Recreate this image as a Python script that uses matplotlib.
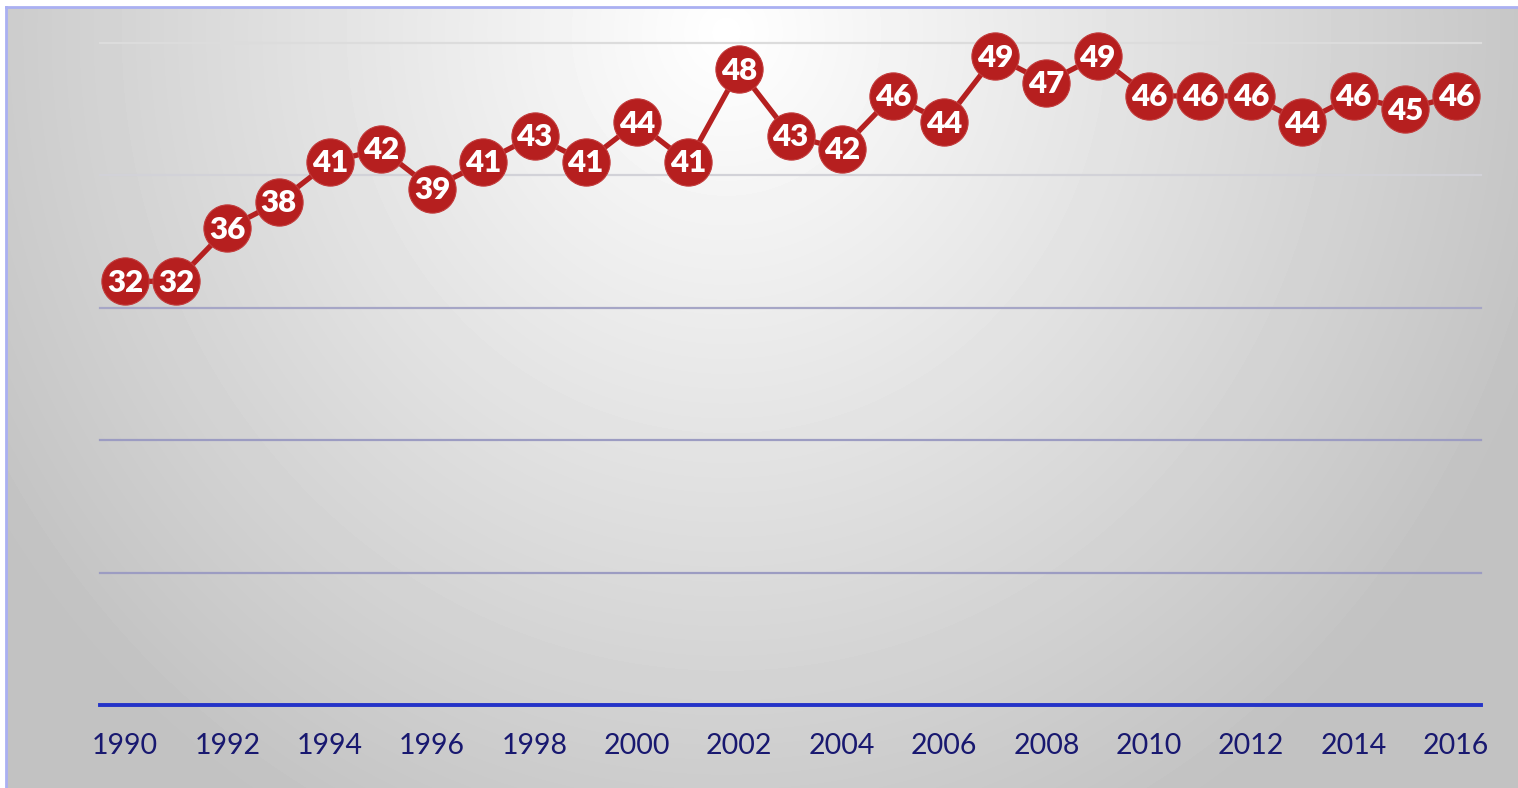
import numpy as np
import matplotlib.pyplot as plt

# data
years = list(range(1990, 2017))
values = [32, 32, 36, 38, 41, 42, 39, 41, 43, 41, 44, 41, 48, 43, 42, 46,
          44, 49, 47, 49, 46, 46, 46, 44, 46, 45, 46]
tick_years = list(range(1990, 2017, 2))
grid_levels = [10, 20, 30, 40, 50]
grid_colors = ["#9c9cc2", "#9c9cc2", "#a6a6c6", "#d2d2d8", "#dcdcdc"]

W, H = 1518, 788
fig = plt.figure(figsize=(W / 100, H / 100), dpi=100)
fig.patch.set_facecolor("white")

# background: soft radial gradient, bright at top centre
bg = fig.add_axes([6 / W, 0, 1 - 6 / W, 1 - 7 / H])
xx, yy = np.meshgrid(np.arange(W - 6), np.arange(H - 7))
d = np.sqrt(((xx - 720) / 900.0) ** 2 + ((yy - 25) / 950.0) ** 2)
v = np.clip(1.0 - 0.25 * d, 0.76, 1.0)
bg.imshow(v, cmap="gray", vmin=0, vmax=1, aspect="auto", interpolation="bilinear")
bg.set_axis_off()
# light blue border on top and left
fig.add_artist(plt.Line2D([6 / W, 1], [1 - 7 / H, 1 - 7 / H], color="#aab0f2", lw=2))
fig.add_artist(plt.Line2D([6 / W, 6 / W], [0, 1 - 7 / H], color="#aab0f2", lw=2))

ax = fig.add_axes([100 / W, (H - 705) / H, (1481 - 100) / W, (705 - 43) / H])
ax.patch.set_alpha(0)
ax.set_xlim(1990 - 25 / 51.2, 2016 + 25 / 51.2)
ax.set_ylim(0, 50)

for lvl, c in zip(grid_levels, grid_colors):
    ax.axhline(lvl, color=c, lw=1.6, zorder=1, clip_on=False)
ax.axhline(0, color="#2433c8", lw=2.8, zorder=2, clip_on=False)

ax.plot(years, values, color="#b52020", lw=3.8, zorder=3,
        marker="o", markersize=34, markerfacecolor="#b61f1f",
        markeredgecolor="#c23a3a", markeredgewidth=0.8, clip_on=False)
for x, y in zip(years, values):
    ax.text(x, y - 0.1, str(y), color="white", fontsize=22.5, fontweight="heavy",
            family="Lato", ha="center", va="center", zorder=4)

for s in ax.spines.values():
    s.set_visible(False)
ax.set_yticks([])
ax.set_xticks(tick_years)
ax.set_xticklabels([str(t) for t in tick_years], family="Lato", fontsize=20.5,
                   color="#181870")
ax.tick_params(axis="x", length=0, pad=20)

fig.savefig("out.png", dpi=100)
